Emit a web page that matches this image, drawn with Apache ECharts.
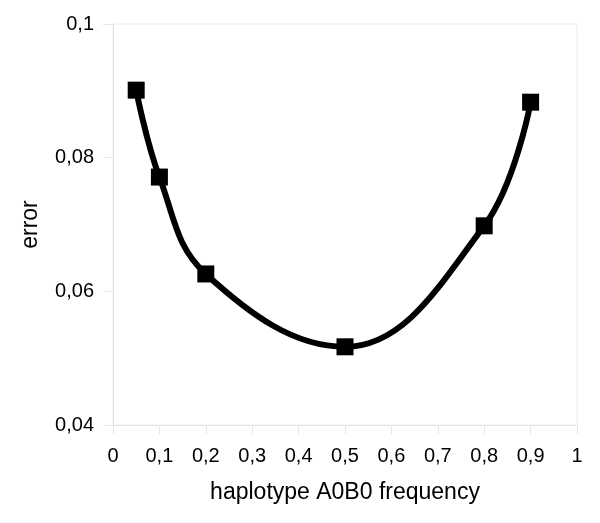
<!DOCTYPE html>
<html>
<head>
<meta charset="utf-8">
<script src="https://cdn.jsdelivr.net/npm/echarts@6/dist/echarts.min.js"></script>
<style>
  html, body { margin: 0; padding: 0; background: #fff; }
  #chart { width: 600px; height: 523px; }
</style>
</head>
<body>
<div id="chart"></div>
<script>
const freq = [0.05, 0.1, 0.2, 0.5, 0.8, 0.9]
const errorValues = [0.0901, 0.0771, 0.0626, 0.0517, 0.0698, 0.0883]

const comma = v => String(+v.toFixed(2)).replace('.', ',')

const myChart = echarts.init(document.getElementById('chart'))
const option = {
  animation: false,
  textStyle: { fontFamily: 'Liberation Sans, Arial, sans-serif' },
  grid: {
    left: 113,
    top: 24,
    right: 23,
    bottom: 98,
    show: true,
    borderColor: '#ececec',
    borderWidth: 1
  },
  xAxis: {
    type: 'value',
    min: 0,
    max: 1,
    interval: 0.1,
    name: 'haplotype A0B0 frequency',
    nameLocation: 'middle',
    nameGap: 56,
    nameTextStyle: { color: '#000', fontSize: 23 },
    axisLine: { show: true, lineStyle: { color: '#e6e6e6' } },
    axisTick: { show: true, length: 9, lineStyle: { color: '#e6e6e6' } },
    axisLabel: { color: '#000', fontSize: 20, margin: 21, formatter: comma },
    splitLine: { show: false }
  },
  yAxis: {
    type: 'value',
    min: 0.04,
    max: 0.1,
    interval: 0.02,
    name: 'error',
    nameLocation: 'middle',
    nameRotate: 90,
    nameGap: 71,
    nameTextStyle: { color: '#000', fontSize: 23 },
    axisLine: { show: true, lineStyle: { color: '#e6e6e6' } },
    axisTick: { show: true, length: 10, lineStyle: { color: '#e6e6e6' } },
    axisLabel: { color: '#000', fontSize: 20, margin: 19, formatter: comma },
    splitLine: { show: false }
  },
  series: [
    {
      type: 'line',
      smooth: 0.4,
      symbol: 'rect',
      symbolSize: 17,
      lineStyle: { color: '#000', width: 6 },
      itemStyle: { color: '#000' },
      data: freq.map((f, i) => [f, errorValues[i]])
    }
  ]
}
myChart.setOption(option)
</script>
</body>
</html>
